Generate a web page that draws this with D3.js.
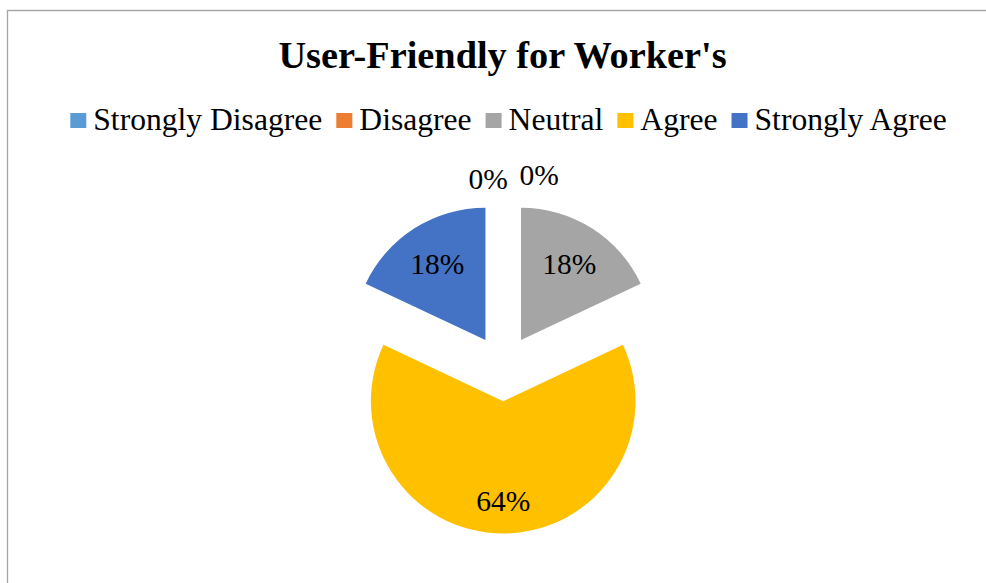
<!DOCTYPE html>
<html>
<head>
<meta charset="utf-8">
<script src="https://cdn.jsdelivr.net/npm/d3@7"></script>
<style>
  html, body { margin: 0; padding: 0; background: #fff; }
  svg { display: block; }
  text { font-family: "Liberation Serif", "Times New Roman", serif; fill: #000; }
</style>
</head>
<body>
<svg id="chart" width="986" height="583"></svg>
<script>
// Survey responses: share of workers per answer (percent)
const categories = ["Strongly Disagree", "Disagree", "Neutral", "Agree", "Strongly Agree"];
const shares = [0, 0, 18, 64, 18];
const colors = ["#5B9BD5", "#ED7D31", "#A5A5A5", "#FFC000", "#4472C4"];
const title = "User-Friendly for Worker's";

const W = 986, H = 583;
const svg = d3.select("#chart");

// chart frame
svg.append("path")
  .attr("d", `M7.5,${H} V10.5 H${W + 20}`)
  .attr("fill", "none")
  .attr("stroke", "#A6A6A6")
  .attr("stroke-width", 1.3);

// title
svg.append("text")
  .attr("x", 502.5)
  .attr("y", 67.5)
  .attr("text-anchor", "middle")
  .attr("font-weight", "bold")
  .attr("font-size", 38.3)
  .text(title);

// legend: one row, centred
const legendFont = 31.6;
const sw = 16, swGap = 7, itemGap = 14;
const legend = svg.append("g");
const items = legend.selectAll("g").data(categories).join("g");
items.append("rect")
  .attr("width", sw).attr("height", 15)
  .attr("y", 113)
  .attr("fill", (d, i) => colors[i]);
items.append("text")
  .attr("x", sw + swGap)
  .attr("y", 130)
  .attr("font-size", legendFont)
  .text(d => d);
let xPos = 0;
const widths = [];
items.each(function () {
  const w = sw + swGap + d3.select(this).select("text").node().getComputedTextLength();
  widths.push(w);
});
const totalW = d3.sum(widths) + itemGap * (widths.length - 1);
xPos = 508.5 - totalW / 2;
items.attr("transform", (d, i) => {
  const t = `translate(${xPos},0)`;
  xPos += widths[i] + itemGap;
  return t;
});

// exploded pie
const cx = 503.2, cy = 368, r = 132.3, explode = 33.2;
const pie = d3.pie().sort(null).value(d => d).startAngle(0).endAngle(2 * Math.PI);
const arcs = pie(shares);
const arc = d3.arc().innerRadius(0).outerRadius(r);
const pieG = svg.append("g").attr("transform", `translate(${cx},${cy})`);

function shift(a, dist) {
  const mid = (a.startAngle + a.endAngle) / 2;
  return [Math.sin(mid) * dist, -Math.cos(mid) * dist];
}

pieG.selectAll("path.slice")
  .data(arcs.filter(a => a.value > 0))
  .join("path")
  .attr("class", "slice")
  .attr("d", arc)
  .attr("fill", a => colors[a.index])
  .attr("transform", a => `translate(${shift(a, explode)})`);

// data labels
const labelFont = 29.5;
const fmt = v => `${v}%`;
arcs.filter(a => a.value > 0).forEach(a => {
  const [ox, oy] = shift(a, explode + r * (a.value > 50 ? 0.75 : 0.68));
  pieG.append("text")
    .attr("x", ox)
    .attr("y", oy)
    .attr("dy", "0.35em")
    .attr("text-anchor", "middle")
    .attr("font-size", labelFont)
    .text(fmt(a.value));
});

// empty categories get their labels just outside the top of the pie
const zeroOffsets = [[-15, -24], [36, -28]];
arcs.filter(a => a.value === 0).forEach((a, k) => {
  const [ox, oy] = shift(a, explode + r);
  const off = zeroOffsets[k % zeroOffsets.length];
  pieG.append("text")
    .attr("x", ox + off[0])
    .attr("y", oy + off[1])
    .attr("dy", "0.35em")
    .attr("text-anchor", "middle")
    .attr("font-size", labelFont)
    .text(fmt(a.value));
});
</script>
</body>
</html>
